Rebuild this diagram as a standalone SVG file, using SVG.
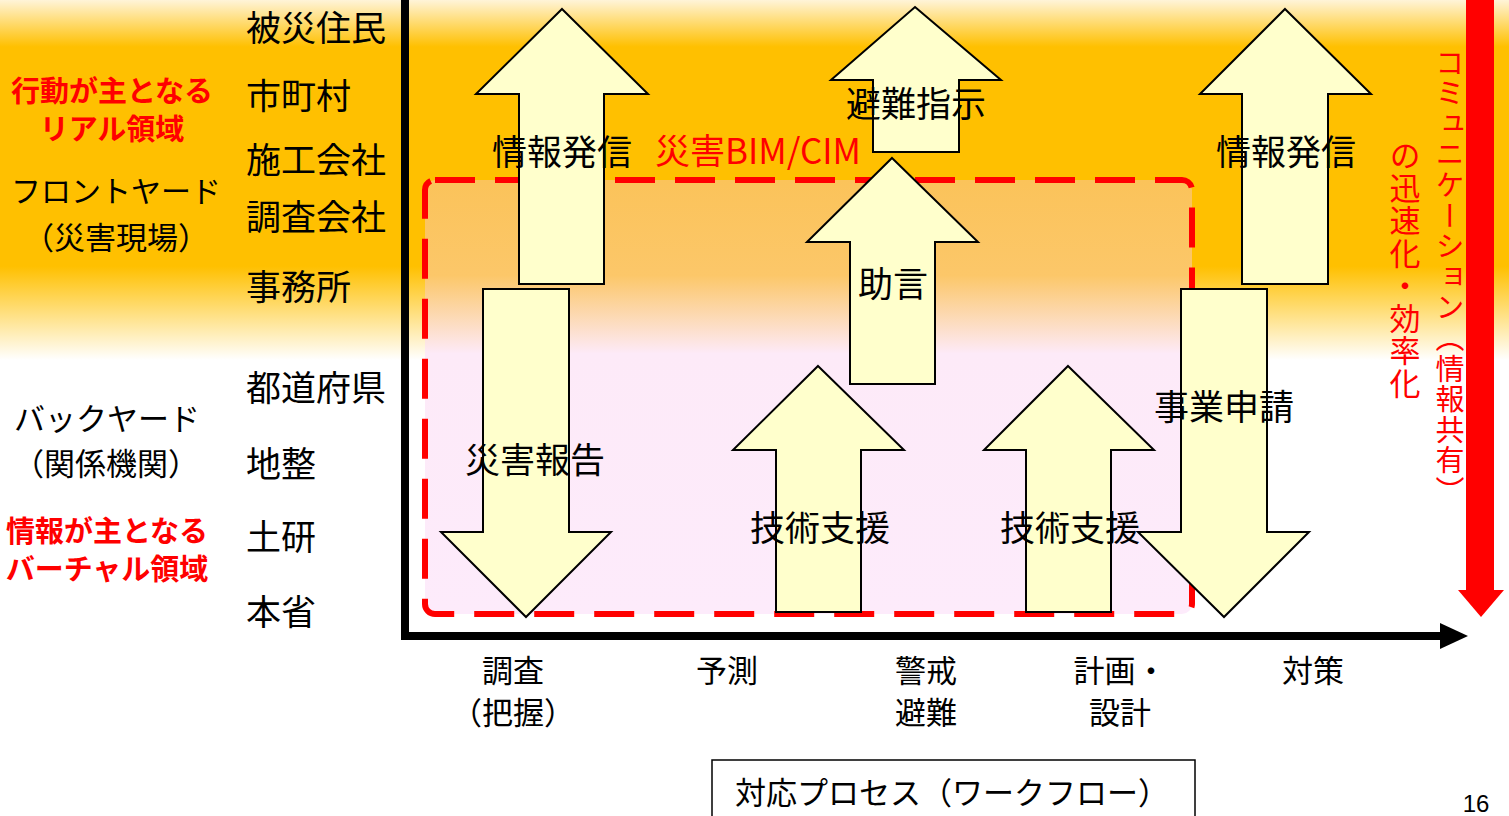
<svg xmlns="http://www.w3.org/2000/svg" width="1509" height="816" viewBox="0 0 1509 816">
<defs>
<linearGradient id="bg" x1="0" y1="0" x2="0" y2="360" gradientUnits="userSpaceOnUse">
<stop offset="0" stop-color="#FFF4D8"/>
<stop offset="0.13" stop-color="#FFC000"/>
<stop offset="0.74" stop-color="#FFC000"/>
<stop offset="1" stop-color="#FFFFFF"/>
</linearGradient>
<linearGradient id="boxg" x1="0" y1="180" x2="0" y2="614" gradientUnits="userSpaceOnUse">
<stop offset="0" stop-color="#FBC35A"/>
<stop offset="0.22" stop-color="#FCC769"/>
<stop offset="0.4" stop-color="#FDEAF8"/>
<stop offset="1" stop-color="#FDEBFB"/>
</linearGradient>
<style>
.big{fill:#FFFFCC;stroke:#000;stroke-width:2;stroke-linejoin:miter}
.t{font-family:"Noto Sans CJK JP","Noto Sans",sans-serif;fill:#000;dominant-baseline:central}
.lbl{font-size:35px;text-anchor:middle}
.side{font-size:35px}
.red{fill:#FF0000}
.b{font-weight:bold}
.ax{font-size:31px;text-anchor:middle}
.vt{font-family:"Noto Sans CJK JP",sans-serif;fill:#FF0000;writing-mode:vertical-rl}
</style>
</defs>
<rect x="0" y="0" width="1509" height="816" fill="#FFFFFF"/>
<rect x="0" y="0" width="1509" height="360" fill="url(#bg)"/>
<rect id="bim-box" x="425" y="180" width="767" height="434" rx="10" fill="url(#boxg)" stroke="#FF0000" stroke-width="6" stroke-dasharray="40,20"/>

<g id="connectors">
<line x1="405" y1="0" x2="405" y2="640" stroke="#000" stroke-width="8"/>
<line x1="401" y1="636" x2="1445" y2="636" stroke="#000" stroke-width="8"/>
<polygon points="1440,623 1468,636 1440,649" fill="#000"/>
<rect x="1466" y="0" width="28" height="592" fill="#FF0000"/>
<polygon points="1458,590 1504,590 1481,617" fill="#FF0000"/>
</g>

<g id="arrow-info1"><polygon class="big" points="562,9 648,94 604,94 604,284 519,284 519,94 476,94"/></g>
<g id="arrow-report"><polygon class="big" points="483,289 569,289 569,532 611,532 526,617 441,532 483,532"/></g>
<g id="arrow-evac"><polygon class="big" points="915,7 1001,80 959,80 959,152 873,152 873,80 831,80"/></g>
<g id="arrow-advice"><polygon class="big" points="892,158 978,242 935,242 935,384 850,384 850,242 807,242"/></g>
<g id="arrow-tech1"><polygon class="big" points="818,366 904,450 861,450 861,612 776,612 776,450 733,450"/></g>
<g id="arrow-tech2"><polygon class="big" points="1068,366 1154,450 1111,450 1111,612 1026,612 1026,450 984,450"/></g>
<g id="arrow-info2"><polygon class="big" points="1285,9 1371,94 1328,94 1328,284 1242,284 1242,94 1200,94"/></g>
<g id="arrow-apply"><polygon class="big" points="1181,289 1267,289 1267,532 1309,532 1224,617 1138,532 1181,532"/></g>

<g id="arrow-labels">
<text class="t lbl" x="562" y="149">情報発信</text>
<text class="t lbl" x="916" y="101">避難指示</text>
<text class="t lbl" x="893" y="281">助言</text>
<text class="t lbl" x="535" y="457">災害報告</text>
<text class="t lbl" x="820" y="525">技術支援</text>
<text class="t lbl" x="1070" y="525">技術支援</text>
<text class="t lbl" x="1286" y="149">情報発信</text>
<text class="t lbl" x="1224" y="404">事業申請</text>
<text class="t red" x="655" y="148" style="font-size:35px">災害BIM/CIM</text>
</g>

<g id="actors">
<text class="t side" x="246" y="25">被災住民</text>
<text class="t side" x="246" y="93">市町村</text>
<text class="t side" x="246" y="157">施工会社</text>
<text class="t side" x="246" y="214">調査会社</text>
<text class="t side" x="246" y="284">事務所</text>
<text class="t side" x="246" y="385">都道府県</text>
<text class="t side" x="246" y="461">地整</text>
<text class="t side" x="246" y="534">土研</text>
<text class="t side" x="246" y="609">本省</text>
</g>

<g id="front-yard">
<text class="t red b" x="112" y="89" style="font-size:29px;text-anchor:middle">行動が主となる</text>
<text class="t red b" x="112" y="127" style="font-size:29px;text-anchor:middle">リアル領域</text>
<text class="t" x="116" y="189" style="font-size:30px;text-anchor:middle">フロントヤード</text>
<text class="t" x="116" y="235" style="font-size:31px;text-anchor:middle">（災害現場）</text>
</g>
<g id="back-yard">
<text class="t" x="107" y="416" style="font-size:31px;text-anchor:middle">バックヤード</text>
<text class="t" x="106" y="461" style="font-size:31px;text-anchor:middle">（関係機関）</text>
<text class="t red b" x="107" y="529" style="font-size:29px;text-anchor:middle">情報が主となる</text>
<text class="t red b" x="107" y="567" style="font-size:29px;text-anchor:middle">バーチャル領域</text>
</g>

<g id="communication">
<text class="vt" x="1450" y="48" style="font-size:29px;letter-spacing:1.6px">コミュニケーション（情報共有）</text>
<text class="vt" x="1405" y="140" style="font-size:31px;letter-spacing:1.5px">の迅速化・効率化</text>
</g>

<g id="process-labels">
<text class="t ax" x="513" y="668">調査</text>
<text class="t ax" x="513" y="710">（把握）</text>
<text class="t ax" x="727" y="668">予測</text>
<text class="t ax" x="926" y="668">警戒</text>
<text class="t ax" x="926" y="710">避難</text>
<text class="t ax" x="1120" y="668">計画・</text>
<text class="t ax" x="1120" y="710">設計</text>
<text class="t ax" x="1313" y="668">対策</text>
</g>

<g id="workflow">
<rect x="712" y="760" width="483" height="70" fill="#FFFFFF" stroke="#000" stroke-width="1.5"/>
<text class="t" x="952" y="790" style="font-size:31px;text-anchor:middle">対応プロセス（ワークフロー）</text>
</g>
<g id="page"><text x="1476" y="812" style="font-family:'Liberation Sans',sans-serif;font-size:24px;text-anchor:middle">16</text></g>
</svg>
